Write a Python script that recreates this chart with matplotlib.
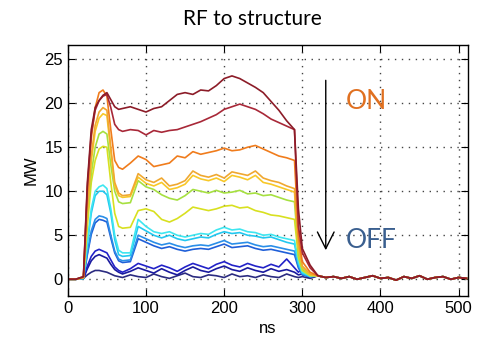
import numpy as np
import matplotlib.pyplot as plt

plt.rcParams['font.family'] = ['Liberation Sans Narrow', 'Liberation Sans', 'DejaVu Sans']

# time axis (ns) for the pulse part, then the flat tail after the pulse
t_head = [0, 10, 20, 25, 30, 35, 40, 45, 50, 55, 60, 65, 70, 80, 90, 100, 110, 120, 130,
          140, 150, 160, 170, 180, 190, 200, 210, 220, 230, 240, 250, 260, 270, 280,
          290, 295, 300, 310]
t_tail = [320, 330, 340, 350, 360, 370, 380, 390, 400, 410, 420, 430, 440, 450, 460,
          470, 480, 490, 500, 510]
tail_mw = [0.4, 0.2, 0.3, 0.1, 0.3, 0.0, 0.2, 0.4, 0.1, 0.2, -0.1, 0.3, 0.1, 0.4, 0.0,
           0.2, 0.3, 0.0, 0.2, 0.1]

# power (MW) per RF setting, from OFF (bottom) to ON (top)
p_navy = [0, 0, 0.1, 0.5, 0.8, 1.0, 1.0, 0.9, 0.8, 0.6, 0.4, 0.3, 0.2, 0.5, 0.3, 0.2, 0.6,
          0.3, 0.1, 0.4, 0.7, 0.3, 0.2, 0.5, 0.4, 0.2, 0.6, 0.3, 0.4, 0.2, 0.5, 0.3, 0.2,
          0.6, 0.3, 0.2, 0.3, 0.1]
p_dkblue2 = [0, 0, 0.1, 1.2, 2.1, 2.6, 2.8, 2.6, 2.4, 1.7, 1.1, 0.8, 0.6, 0.9, 1.3, 1.0,
             0.7, 1.2, 0.8, 0.5, 1.0, 1.4, 1.0, 0.8, 1.2, 1.5, 1.1, 0.9, 1.3, 1.0, 0.8,
             1.2, 0.9, 1.1, 0.8, 0.5, 0.6, 0.2]
p_dkblue = [0, 0, 0.1, 1.5, 2.6, 3.2, 3.4, 3.2, 3.0, 2.2, 1.4, 1.0, 0.8, 1.2, 1.8, 1.5,
            1.2, 1.6, 1.3, 0.9, 1.4, 1.8, 1.5, 1.2, 1.7, 2.0, 1.6, 1.4, 1.8, 1.5, 1.3,
            1.7, 1.4, 2.3, 1.3, 0.8, 1.2, 0.3]
p_blue = [0, 0, 0.1, 2.8, 5.1, 6.4, 6.8, 6.7, 6.5, 4.7, 3.0, 2.1, 1.9, 2.0, 4.6, 4.2,
          3.8, 3.5, 3.7, 3.4, 3.2, 3.4, 3.5, 3.4, 3.7, 4.0, 3.6, 3.7, 3.8, 3.5, 3.3,
          3.4, 3.2, 3.0, 2.8, 1.3, 0.5, 0.3]
p_ltblue = [0, 0, 0.1, 3.0, 5.5, 6.8, 7.2, 7.1, 6.9, 5.0, 3.2, 2.3, 2.1, 2.2, 5.0, 4.6,
            4.2, 3.9, 4.1, 3.8, 3.6, 3.8, 3.9, 3.8, 4.1, 4.4, 4.0, 4.1, 4.2, 3.9, 3.7,
            3.8, 3.6, 3.4, 3.2, 1.5, 0.6, 0.3]
p_cyan = [0, 0, 0.1, 4.0, 7.5, 9.5, 10.0, 10.0, 9.6, 7.5, 4.5, 2.8, 2.6, 2.7, 6.0, 5.5,
          5.0, 4.7, 5.0, 4.6, 4.4, 4.6, 4.8, 4.7, 5.1, 5.4, 5.2, 5.3, 5.0, 4.9, 4.7,
          4.8, 4.5, 4.2, 4.0, 1.8, 0.7, 0.3]
p_ltcyan = [0, 0, 0.1, 4.2, 8.0, 10.0, 10.5, 10.7, 10.3, 8.0, 5.0, 3.3, 3.0, 3.0, 6.8,
            6.0, 5.4, 5.2, 5.4, 5.0, 4.8, 5.0, 5.2, 5.1, 5.6, 5.9, 5.6, 5.7, 5.4, 5.3,
            5.0, 5.1, 4.8, 4.6, 4.4, 2.0, 0.8, 0.4]
p_yellow = [0, 0, 0.2, 6.0, 11.0, 13.5, 14.8, 15.1, 15.0, 11.0, 7.5, 6.0, 5.8, 5.9, 7.8,
            8.0, 7.7, 6.8, 6.5, 6.9, 7.5, 8.2, 8.0, 7.8, 8.0, 8.3, 8.4, 8.1, 8.2, 7.8,
            7.6, 7.3, 7.2, 7.0, 6.8, 2.5, 1.0, 0.4]
p_ygreen = [0, 0, 0.2, 7.0, 12.0, 15.0, 16.5, 16.8, 16.5, 13.0, 10.0, 8.8, 8.6, 8.7, 11.2,
            10.5, 10.2, 9.6, 9.2, 9.0, 9.5, 10.2, 10.0, 9.8, 10.1, 9.8, 9.9, 10.1, 9.7,
            9.8, 9.5, 9.6, 9.3, 9.0, 8.8, 3.0, 1.2, 0.5]
p_yorange = [0, 0, 0.2, 7.6, 13.4, 16.8, 18.3, 18.8, 18.6, 14.5, 10.6, 9.5, 9.3, 9.4,
             11.6, 10.9, 10.6, 11.0, 10.2, 10.4, 10.8, 11.8, 11.4, 11.2, 11.5, 11.1,
             11.8, 11.6, 11.3, 11.8, 11.0, 10.8, 10.5, 10.2, 9.9, 3.5, 1.4, 0.5]
p_orangey = [0, 0, 0.2, 8.0, 14.0, 17.5, 19.0, 19.5, 19.2, 15.0, 11.0, 9.8, 9.5, 9.6,
             12.0, 11.3, 11.0, 11.5, 10.6, 10.8, 11.2, 12.3, 11.8, 11.6, 11.9, 11.5,
             12.2, 12.0, 11.8, 12.3, 11.5, 11.2, 11.0, 10.6, 10.3, 4.0, 1.5, 0.6]
p_orange = [0, 0, 0.2, 10.0, 16.0, 19.5, 21.2, 21.5, 20.8, 17.0, 13.5, 12.7, 12.5, 13.2,
            14.0, 13.6, 12.8, 13.0, 13.2, 14.0, 13.8, 14.5, 14.2, 14.4, 14.6, 14.9,
            14.6, 14.7, 15.0, 15.2, 14.8, 14.4, 14.0, 13.8, 13.5, 5.0, 2.0, 0.8]
p_red = [0, 0, 0.3, 10.5, 16.5, 19.2, 20.3, 20.8, 21.0, 19.5, 17.6, 17.0, 16.8, 17.0,
         16.9, 16.4, 16.9, 16.7, 16.9, 17.0, 17.3, 17.6, 17.9, 18.3, 18.7, 19.3, 19.6,
         19.9, 19.6, 19.3, 18.8, 18.2, 17.8, 17.4, 17.0, 6.0, 3.0, 1.3]
p_dkred = [0, 0, 0.3, 11.0, 17.0, 19.5, 20.3, 20.9, 21.2, 20.4, 19.6, 19.3, 19.4, 19.6,
           19.3, 19.0, 19.4, 19.6, 20.3, 21.0, 21.2, 21.0, 21.5, 21.4, 22.0, 22.8,
           23.1, 22.8, 22.3, 21.8, 21.2, 20.2, 19.2, 18.0, 17.0, 8.0, 3.5, 1.6]

series = [p_navy, p_dkblue2, p_dkblue, p_blue, p_ltblue, p_cyan, p_ltcyan, p_yellow,
          p_ygreen, p_yorange, p_orangey, p_orange, p_red, p_dkred]
colors = ['#2b2b80', '#1a1a9e', '#2222c8', '#1f5fd8', '#2a8ee8', '#22c8f0', '#3ee6f0',
          '#d8e020', '#a6e040', '#f8c828', '#f0a830', '#f07c1c', '#a82838', '#8c1c28']

t_all = t_head + t_tail

fig = plt.figure(figsize=(4.81, 3.47), dpi=100)
ax = fig.add_axes([0.141, 0.147, 0.832, 0.723])

for vals, c in zip(series, colors):
    ax.plot(t_all, vals + tail_mw, color=c, lw=1.2)

ax.set_xlim(0, 512)
ax.set_ylim(-1.9, 26.6)
ax.set_xticks([0, 100, 200, 300, 400, 500])
ax.set_yticks([0, 5, 10, 15, 20, 25])
ax.grid(True, color='#444444', linestyle=(0, (1, 4)), lw=1.0)
ax.tick_params(direction='in', top=True, right=True, length=5, labelsize=12)
for s in ax.spines.values():
    s.set_linewidth(1.0)

ax.set_xlabel('ns', fontsize=12)
ax.set_ylabel('MW', fontsize=12)

fig.text(0.525, 0.945, 'RF to structure', fontsize=15, family='Lato',
         ha='center', va='center')

# ON -> OFF arrow and labels
ax.annotate('', xy=(330, 3.3), xytext=(330, 22.6),
            arrowprops=dict(arrowstyle='->,head_length=0.6,head_width=0.3',
                            color='black', lw=1.0, mutation_scale=20,
                            shrinkA=0, shrinkB=0))
ax.text(355, 20.2, 'ON', color='#e07020', fontsize=19, family='Lato',
        ha='left', va='center')
ax.text(355, 4.4, 'OFF', color='#3a5f8f', fontsize=19, family='Lato',
        ha='left', va='center')

fig.savefig('out.png', dpi=100)
